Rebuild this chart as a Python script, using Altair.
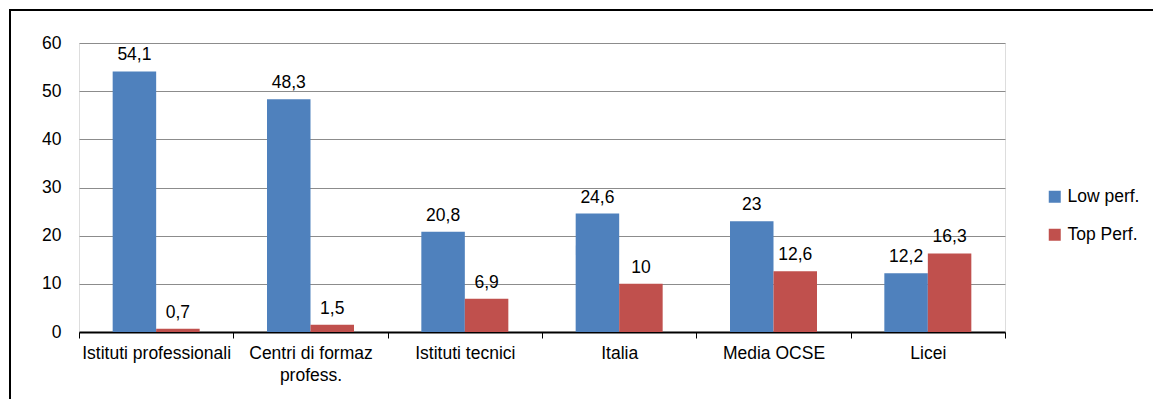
import altair as alt
import pandas as pd

categories = ["Istituti professionali", "Centri di formaz|profess.", "Istituti tecnici",
              "Italia", "Media OCSE", "Licei"]
series = ["Low perf.", "Top Perf."]
low_perf = [54.1, 48.3, 20.8, 24.6, 23.0, 12.2]
top_perf = [0.7, 1.5, 6.9, 10.0, 12.6, 16.3]
colors = ["#4F81BD", "#C0504D"]

rows = []
for c, lo, tp in zip(categories, low_perf, top_perf):
    rows.append({"cat": c, "serie": series[0], "value": lo})
    rows.append({"cat": c, "serie": series[1], "value": tp})
df = pd.DataFrame(rows)

FONT = "Liberation Sans"
FS = 17.5

x = alt.X("cat:N", sort=categories, title=None,
          scale=alt.Scale(paddingInner=0, paddingOuter=0),
          axis=alt.Axis(labelExpr="split(datum.label, '|')", labelAngle=0,
                        tickBand="extent", domainColor="black", domainWidth=2,
                        tickColor="black", tickWidth=1, tickSize=6,
                        labelFont=FONT, labelFontSize=FS, labelColor="black",
                        labelPadding=6, labelLineHeight=22, grid=False))
y = alt.Y("value:Q", title=None,
          scale=alt.Scale(domain=[0, 60], nice=False),
          axis=alt.Axis(values=[0, 10, 20, 30, 40, 50, 60], domain=False, ticks=False,
                        gridColor="#8C8C8C", gridWidth=1, labelFont=FONT,
                        labelFontSize=FS, labelColor="black", labelPadding=18))

xoff = alt.XOffset("serie:N", sort=series,
                   scale=alt.Scale(paddingInner=0, paddingOuter=0.774))

color = alt.Color("serie:N", sort=series,
                  scale=alt.Scale(domain=series, range=colors),
                  legend=alt.Legend(title=None, orient="none", legendX=967, legendY=145,
                                    symbolType="square", symbolSize=144,
                                    symbolStrokeWidth=0, labelFont=FONT,
                                    labelFontSize=FS, labelColor="black",
                                    rowPadding=19, labelOffset=4))

base = alt.Chart(df)
bars = base.mark_bar().encode(x=x, y=y, xOffset=xoff, color=color)

texts = base.transform_calculate(
    lab="replace(toString(datum.value), '.', ',')"
).mark_text(baseline="bottom", dy=-7, font=FONT, fontSize=FS, color="black").encode(
    x=alt.X("cat:N", sort=categories),
    xOffset=xoff,
    y="value:Q", text="lab:N")

border = alt.Chart(pd.DataFrame({"a": [0]})).mark_rect(
    fill=None, fillOpacity=0, stroke="black", strokeWidth=2, clip=False
).encode(x=alt.value(-69), x2=alt.value(1100), y=alt.value(-33), y2=alt.value(420))

chart = alt.layer(border, bars, texts).properties(
    width=926, height=289,
    padding={"left": 71, "top": 35, "right": 148, "bottom": 67},
    autosize=alt.AutoSizeParams(type="none"),
).configure_view(stroke=None).configure(background="white")

chart.save("out.html", embed_options={"renderer": "svg", "actions": False})
